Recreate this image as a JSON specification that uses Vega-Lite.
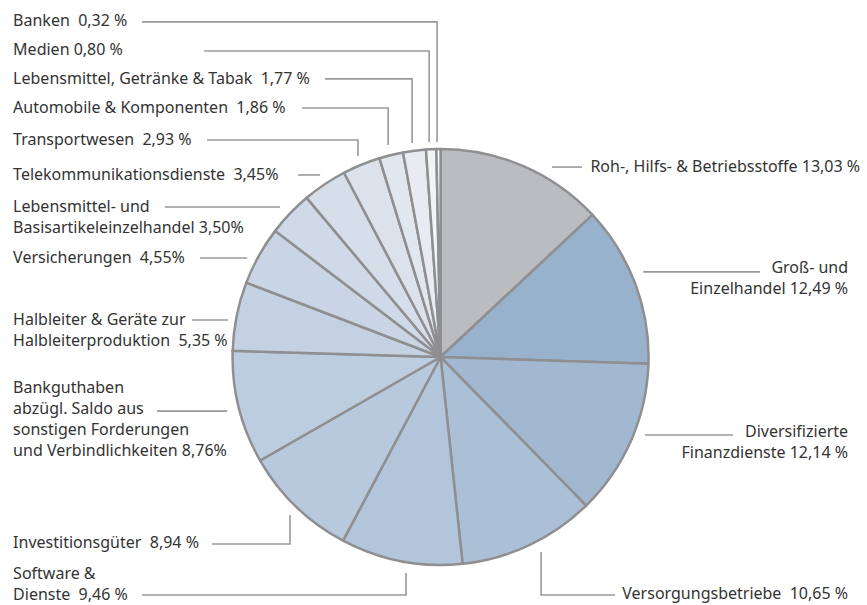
{
  "$schema": "https://vega.github.io/schema/vega-lite/v6.json",
  "width": 867,
  "height": 605,
  "autosize": {"type": "none"},
  "padding": 0,
  "background": "white",
  "config": {"view": {"stroke": null}, "font": "Noto Sans"},
  "datasets": {
    "slices": [
      {"category": "Roh-, Hilfs- & Betriebsstoffe", "share": 13.03, "order": 1},
      {"category": "Groß- und Einzelhandel", "share": 12.49, "order": 2},
      {"category": "Diversifizierte Finanzdienste", "share": 12.14, "order": 3},
      {"category": "Versorgungsbetriebe", "share": 10.65, "order": 4},
      {"category": "Software & Dienste", "share": 9.46, "order": 5},
      {"category": "Investitionsgüter", "share": 8.94, "order": 6},
      {"category": "Bankguthaben abzügl. Saldo aus sonstigen Forderungen und Verbindlichkeiten", "share": 8.76, "order": 7},
      {"category": "Halbleiter & Geräte zur Halbleiterproduktion", "share": 5.35, "order": 8},
      {"category": "Versicherungen", "share": 4.55, "order": 9},
      {"category": "Lebensmittel- und Basisartikeleinzelhandel", "share": 3.50, "order": 10},
      {"category": "Telekommunikationsdienste", "share": 3.45, "order": 11},
      {"category": "Transportwesen", "share": 2.93, "order": 12},
      {"category": "Automobile & Komponenten", "share": 1.86, "order": 13},
      {"category": "Lebensmittel, Getränke & Tabak", "share": 1.77, "order": 14},
      {"category": "Medien", "share": 0.80, "order": 15},
      {"category": "Banken", "share": 0.32, "order": 16}
    ],
    "labels": [
      {"category": "Banken", "text": "Banken\u00a0 0,32 %", "u": -205.5, "v": 161.5, "align": "left"},
      {"category": "Medien", "text": "Medien 0,80 %", "u": -205.5, "v": 147.6, "align": "left"},
      {"category": "Lebensmittel, Getränke & Tabak", "text": "Lebensmittel, Getränke & Tabak\u00a0 1,77 %", "u": -205.5, "v": 133.7, "align": "left"},
      {"category": "Automobile & Komponenten", "text": "Automobile & Komponenten\u00a0 1,86 %", "u": -205.5, "v": 119.7, "align": "left"},
      {"category": "Transportwesen", "text": "Transportwesen\u00a0 2,93 %", "u": -205.5, "v": 104.3, "align": "left"},
      {"category": "Telekommunikationsdienste", "text": "Telekommunikationsdienste\u00a0 3,45%", "u": -205.5, "v": 87.5, "align": "left"},
      {"category": "Lebensmittel- und Basisartikeleinzelhandel", "text": "Lebensmittel- und\nBasisartikeleinzelhandel 3,50%", "u": -205.5, "v": 72.1, "align": "left"},
      {"category": "Versicherungen", "text": "Versicherungen\u00a0 4,55%", "u": -205.5, "v": 47.6, "align": "left"},
      {"category": "Halbleiter & Geräte zur Halbleiterproduktion", "text": "Halbleiter & Geräte zur\nHalbleiterproduktion\u00a0 5,35 %", "u": -205.5, "v": 17.8, "align": "left"},
      {"category": "Bankguthaben abzügl. Saldo aus sonstigen Forderungen und Verbindlichkeiten", "text": "Bankguthaben\nabzügl. Saldo aus\nsonstigen Forderungen\nund Verbindlichkeiten 8,76%", "u": -205.5, "v": -14.9, "align": "left"},
      {"category": "Investitionsgüter", "text": "Investitionsgüter\u00a0 8,94 %", "u": -205.5, "v": -89.4, "align": "left"},
      {"category": "Software & Dienste", "text": "Software &\nDienste\u00a0 9,46 %", "u": -205.5, "v": -104.3, "align": "left"},
      {"category": "Roh-, Hilfs- & Betriebsstoffe", "text": "Roh-, Hilfs- & Betriebsstoffe 13,03 %", "u": 201.7, "v": 91.3, "align": "right"},
      {"category": "Groß- und Einzelhandel", "text": "Groß- und\nEinzelhandel 12,49 %", "u": 195.9, "v": 42.8, "align": "right"},
      {"category": "Diversifizierte Finanzdienste", "text": "Diversifizierte\nFinanzdienste 12,14 %", "u": 195.9, "v": -35.9, "align": "right"},
      {"category": "Versorgungsbetriebe", "text": "Versorgungsbetriebe\u00a0 10,65 %", "u": 195.9, "v": -113.9, "align": "right"}
    ],
    "leaders": [
      {"id": "Banken", "seq": 1, "u": -143.5, "v": 161.1},
      {"id": "Banken", "seq": 2, "u": -1.7, "v": 161.1},
      {"id": "Banken", "seq": 3, "u": -1.7, "v": 103.4},
      {"id": "Medien", "seq": 1, "u": -113.7, "v": 147.1},
      {"id": "Medien", "seq": 2, "u": -5.5, "v": 147.1},
      {"id": "Medien", "seq": 3, "u": -5.5, "v": 103.4},
      {"id": "LebensmittelG", "seq": 1, "u": -55.5, "v": 133.7},
      {"id": "LebensmittelG", "seq": 2, "u": -13.7, "v": 133.7},
      {"id": "LebensmittelG", "seq": 3, "u": -13.7, "v": 102.9},
      {"id": "Automobile", "seq": 1, "u": -66.6, "v": 119.7},
      {"id": "Automobile", "seq": 2, "u": -25.2, "v": 119.7},
      {"id": "Automobile", "seq": 3, "u": -25.2, "v": 101.9},
      {"id": "Transport", "seq": 1, "u": -112.3, "v": 104.3},
      {"id": "Transport", "seq": 2, "u": -39.7, "v": 104.3},
      {"id": "Transport", "seq": 3, "u": -39.7, "v": 96.6},
      {"id": "Telekom", "seq": 1, "u": -68.5, "v": 87.5},
      {"id": "Telekom", "seq": 2, "u": -57.9, "v": 87.5},
      {"id": "LebensmittelB", "seq": 1, "u": -132.5, "v": 72.1},
      {"id": "LebensmittelB", "seq": 2, "u": -77.2, "v": 72.1},
      {"id": "Versicherungen", "seq": 1, "u": -115.6, "v": 47.6},
      {"id": "Versicherungen", "seq": 2, "u": -93.0, "v": 47.6},
      {"id": "Halbleiter", "seq": 1, "u": -119.5, "v": 17.8},
      {"id": "Halbleiter", "seq": 2, "u": -102.2, "v": 17.8},
      {"id": "Bankguthaben", "seq": 1, "u": -136.3, "v": -26.0},
      {"id": "Bankguthaben", "seq": 2, "u": -102.6, "v": -26.0},
      {"id": "Investitionsgueter", "seq": 1, "u": -109.9, "v": -89.9},
      {"id": "Investitionsgueter", "seq": 2, "u": -72.4, "v": -89.9},
      {"id": "Investitionsgueter", "seq": 3, "u": -72.4, "v": -76.0},
      {"id": "Software", "seq": 1, "u": -143.5, "v": -114.4},
      {"id": "Software", "seq": 2, "u": -16.6, "v": -114.4},
      {"id": "Software", "seq": 3, "u": -16.6, "v": -103.8},
      {"id": "Versorgung", "seq": 1, "u": 48.3, "v": -93.75},
      {"id": "Versorgung", "seq": 2, "u": 48.3, "v": -114.4},
      {"id": "Versorgung", "seq": 3, "u": 83.9, "v": -114.4},
      {"id": "Diversifiziert", "seq": 1, "u": 98.3, "v": -37.5},
      {"id": "Diversifiziert", "seq": 2, "u": 140.6, "v": -37.5},
      {"id": "Gross", "seq": 1, "u": 97.4, "v": 40.9},
      {"id": "Gross", "seq": 2, "u": 153.6, "v": 40.9},
      {"id": "Roh", "seq": 1, "u": 53.6, "v": 91.3},
      {"id": "Roh", "seq": 2, "u": 68.0, "v": 91.3}
    ]
  },
  "layer": [
    {
      "data": {"name": "slices"},
      "mark": {"type": "arc", "radius": 208, "stroke": "#8f8f91", "strokeWidth": 2.5, "strokeJoin": "round"},
      "encoding": {
        "theta": {"field": "share", "type": "quantitative", "stack": true},
        "order": {"field": "order", "type": "quantitative"},
        "color": {
          "field": "category",
          "type": "nominal",
          "legend": null,
          "scale": {
            "domain": [
              "Roh-, Hilfs- & Betriebsstoffe", "Groß- und Einzelhandel", "Diversifizierte Finanzdienste", "Versorgungsbetriebe",
              "Software & Dienste", "Investitionsgüter", "Bankguthaben abzügl. Saldo aus sonstigen Forderungen und Verbindlichkeiten",
              "Halbleiter & Geräte zur Halbleiterproduktion", "Versicherungen", "Lebensmittel- und Basisartikeleinzelhandel",
              "Telekommunikationsdienste", "Transportwesen", "Automobile & Komponenten", "Lebensmittel, Getränke & Tabak", "Medien", "Banken"
            ],
            "range": [
              "#bbbcc0", "#98b1cc", "#a2b8d1", "#abc0d7", "#b2c5db", "#b8c9dd", "#bdcde0", "#c3d1e3",
              "#c9d5e5", "#cfd9e7", "#d5dee9", "#dbe2ec", "#e1e7ef", "#e8ecf2", "#f1f4f7", "#f9fafc"
            ]
          }
        },
        "x": {"datum": 0, "type": "quantitative", "scale": {"domain": [-211.8, 205.0], "nice": false, "zero": false}, "axis": null},
        "y": {"datum": 0, "type": "quantitative", "scale": {"domain": [-119.2, 171.6], "nice": false, "zero": false}, "axis": null}
      }
    },
    {
      "data": {"name": "leaders"},
      "mark": {"type": "line", "stroke": "#9a9a9a", "strokeWidth": 1.6},
      "encoding": {
        "x": {"field": "u", "type": "quantitative"},
        "y": {"field": "v", "type": "quantitative"},
        "detail": {"field": "id"},
        "order": {"field": "seq", "type": "quantitative"}
      }
    },
    {
      "data": {"name": "labels"},
      "transform": [{"filter": "datum.align === 'left'"}],
      "mark": {"type": "text", "align": "left", "baseline": "middle", "fontSize": 16, "lineHeight": 21, "lineBreak": "\n", "color": "#333333"},
      "encoding": {
        "x": {"field": "u", "type": "quantitative"},
        "y": {"field": "v", "type": "quantitative"},
        "text": {"field": "text"}
      }
    },
    {
      "data": {"name": "labels"},
      "transform": [{"filter": "datum.align === 'right'"}],
      "mark": {"type": "text", "align": "right", "baseline": "middle", "fontSize": 16, "lineHeight": 21, "lineBreak": "\n", "color": "#333333"},
      "encoding": {
        "x": {"field": "u", "type": "quantitative"},
        "y": {"field": "v", "type": "quantitative"},
        "text": {"field": "text"}
      }
    }
  ]
}
